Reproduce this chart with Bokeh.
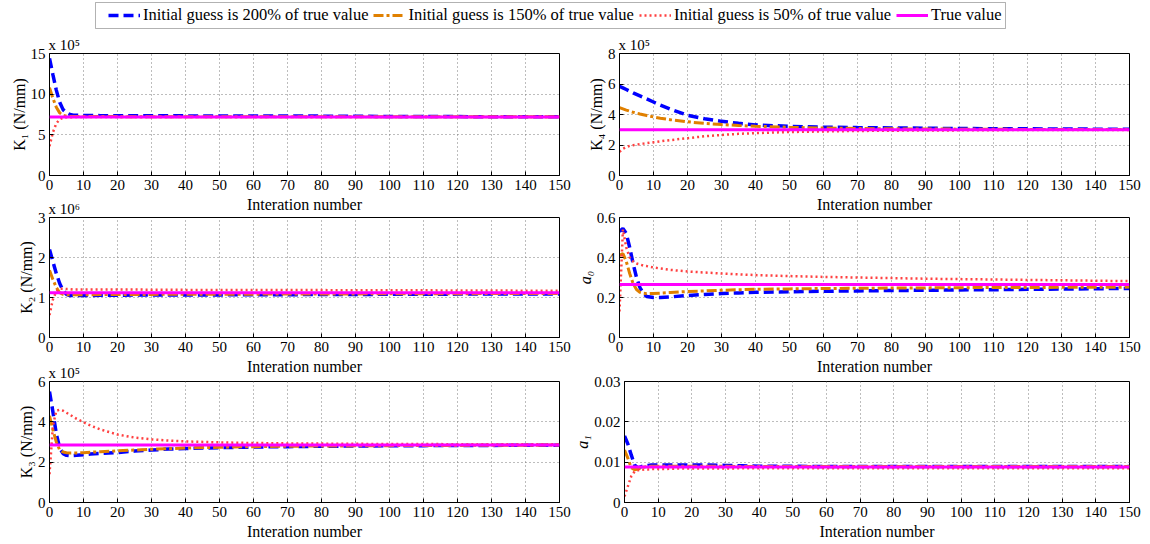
from bokeh.plotting import figure
from bokeh.layouts import column, row
from bokeh.models import (Range1d, FixedTicker, Legend, LegendItem, Title,
                          BoxAnnotation, Span, NumeralTickFormatter)
from bokeh.embed import file_html
from bokeh.resources import INLINE

# ---------------- data ----------------
ITER = [0, 1, 2, 3, 4, 5, 6, 7, 8, 10, 12, 15, 20, 25, 30, 35, 40, 50, 60, 70,
        80, 90, 100, 110, 120, 130, 140, 150]
X_TICKS = [0, 10, 20, 30, 40, 50, 60, 70, 80, 90, 100, 110, 120, 130, 140, 150]

SERIES_NAMES = ["Initial guess is 200% of true value",
                "Initial guess is 150% of true value",
                "Initial guess is 50% of true value",
                "True value"]

# K1 (x 10^5 N/mm)
K1_200 = [14.4, 12.4, 10.5, 9.0, 8.1, 7.7, 7.5, 7.42, 7.4, 7.38, 7.37, 7.36, 7.35, 7.35,
          7.34, 7.34, 7.33, 7.33, 7.32, 7.31, 7.30, 7.28, 7.26, 7.25, 7.24, 7.23, 7.22, 7.22]
K1_150 = [10.8, 9.5, 8.4, 7.7, 7.4, 7.3, 7.27, 7.26, 7.25, 7.25, 7.24, 7.24, 7.24, 7.23,
          7.23, 7.23, 7.23, 7.22, 7.22, 7.22, 7.22, 7.21, 7.21, 7.21, 7.21, 7.21, 7.21, 7.21]
K1_50 = [3.6, 5.3, 6.4, 6.9, 7.1, 7.15, 7.17, 7.18, 7.19, 7.19, 7.2, 7.2, 7.2, 7.2,
         7.2, 7.2, 7.2, 7.2, 7.2, 7.2, 7.2, 7.2, 7.2, 7.2, 7.2, 7.2, 7.2, 7.2]
K1_TRUE = 7.2
K1_YTICKS = [0, 5, 10, 15]

# K2 (x 10^6 N/mm)
K2_200 = [2.2, 1.9, 1.6, 1.35, 1.17, 1.08, 1.05, 1.05, 1.05, 1.05, 1.05, 1.055, 1.055, 1.06,
          1.06, 1.06, 1.065, 1.065, 1.07, 1.07, 1.075, 1.075, 1.08, 1.08, 1.085, 1.085, 1.09, 1.09]
K2_150 = [1.68, 1.45, 1.25, 1.12, 1.08, 1.07, 1.07, 1.07, 1.07, 1.07, 1.07, 1.072, 1.074, 1.076,
          1.078, 1.08, 1.08, 1.082, 1.084, 1.086, 1.088, 1.09, 1.092, 1.094, 1.096, 1.098, 1.1, 1.1]
K2_50 = [0.56, 0.95, 1.15, 1.22, 1.22, 1.21, 1.21, 1.2, 1.2, 1.2, 1.2, 1.2, 1.2, 1.2,
         1.195, 1.195, 1.19, 1.19, 1.19, 1.185, 1.185, 1.18, 1.18, 1.18, 1.175, 1.175, 1.17, 1.17]
K2_TRUE = 1.12
K2_YTICKS = [0, 1, 2, 3]

# K3 (x 10^5 N/mm)
K3_200 = [5.5, 4.5, 3.4, 2.7, 2.42, 2.34, 2.32, 2.33, 2.34, 2.37, 2.4, 2.43, 2.48, 2.55,
          2.6, 2.65, 2.68, 2.72, 2.75, 2.77, 2.79, 2.8, 2.81, 2.82, 2.83, 2.83, 2.84, 2.84]
K3_150 = [4.3, 3.6, 3.0, 2.6, 2.5, 2.47, 2.46, 2.46, 2.46, 2.47, 2.49, 2.52, 2.56, 2.6,
          2.64, 2.67, 2.7, 2.74, 2.77, 2.79, 2.8, 2.81, 2.82, 2.83, 2.83, 2.84, 2.84, 2.85]
K3_50 = [1.4, 3.8, 4.55, 4.6, 4.55, 4.45, 4.35, 4.25, 4.15, 3.98, 3.82, 3.62, 3.37, 3.22,
         3.13, 3.07, 3.03, 2.98, 2.95, 2.93, 2.92, 2.91, 2.9, 2.9, 2.89, 2.89, 2.89, 2.89]
K3_TRUE = 2.85
K3_YTICKS = [0, 2, 4, 6]

# K4 (x 10^5 N/mm)
K4_200 = [5.85, 5.75, 5.64, 5.53, 5.42, 5.32, 5.22, 5.12, 5.02, 4.82, 4.62, 4.35, 3.95, 3.72,
          3.55, 3.42, 3.32, 3.22, 3.17, 3.14, 3.12, 3.1, 3.08, 3.07, 3.06, 3.05, 3.04, 3.03]
K4_150 = [4.45, 4.37, 4.29, 4.22, 4.15, 4.09, 4.03, 3.98, 3.93, 3.84, 3.76, 3.66, 3.52, 3.42,
          3.34, 3.28, 3.23, 3.16, 3.11, 3.08, 3.06, 3.05, 3.04, 3.03, 3.02, 3.02, 3.01, 3.01]
K4_50 = [1.55, 1.75, 1.87, 1.94, 1.99, 2.03, 2.06, 2.09, 2.12, 2.18, 2.24, 2.32, 2.45, 2.57,
         2.66, 2.73, 2.78, 2.85, 2.89, 2.92, 2.94, 2.95, 2.96, 2.97, 2.98, 2.98, 2.99, 2.99]
K4_TRUE = 3.0
K4_YTICKS = [0, 2, 4, 6, 8]

# a0
A0_200 = [0.53, 0.545, 0.52, 0.45, 0.37, 0.3, 0.25, 0.22, 0.205, 0.2, 0.2, 0.203, 0.21, 0.215,
          0.22, 0.223, 0.226, 0.229, 0.231, 0.233, 0.235, 0.236, 0.238, 0.239, 0.241, 0.242, 0.244, 0.245]
A0_150 = [0.41, 0.42, 0.38, 0.32, 0.27, 0.24, 0.226, 0.221, 0.219, 0.22, 0.222, 0.225, 0.23, 0.233,
          0.236, 0.239, 0.241, 0.243, 0.245, 0.246, 0.247, 0.248, 0.249, 0.25, 0.25, 0.251, 0.251, 0.252]
A0_50 = [0.13, 0.54, 0.45, 0.4, 0.38, 0.37, 0.365, 0.36, 0.357, 0.35, 0.345, 0.338, 0.33, 0.325,
         0.32, 0.316, 0.312, 0.307, 0.303, 0.3, 0.297, 0.294, 0.292, 0.29, 0.288, 0.286, 0.284, 0.282]
A0_TRUE = 0.265
A0_YTICKS = [0, 0.2, 0.4, 0.6]

# a1
A1_200 = [0.0165, 0.0145, 0.0118, 0.0093, 0.0086, 0.0089, 0.0091, 0.0092, 0.0093, 0.0093, 0.0093,
          0.0093, 0.0093, 0.0093, 0.0092, 0.0091, 0.009, 0.009, 0.0089, 0.0089, 0.0089, 0.0089,
          0.0089, 0.0089, 0.0089, 0.0089, 0.0089, 0.0089]
A1_150 = [0.013, 0.011, 0.0086, 0.0081, 0.0083, 0.0086, 0.0088, 0.0089, 0.009, 0.009, 0.009,
          0.009, 0.009, 0.009, 0.009, 0.0089, 0.0089, 0.0089, 0.0089, 0.0089, 0.0089, 0.0089,
          0.0089, 0.0089, 0.0089, 0.0089, 0.0089, 0.0089]
A1_50 = [0.0015, 0.004, 0.0065, 0.0077, 0.008, 0.0081, 0.0082, 0.0082, 0.0083, 0.0083, 0.0083,
         0.0084, 0.0084, 0.0084, 0.0084, 0.0085, 0.0085, 0.0085, 0.0085, 0.0085, 0.0085, 0.0085,
         0.0085, 0.0085, 0.0085, 0.0085, 0.0085, 0.0085]
A1_TRUE = 0.0088
A1_YTICKS = [0, 0.01, 0.02, 0.03]

# ---------------- styles ----------------
FONT = "Liberation Serif"
STYLES = [
    dict(color="#0000FF", line_width=3.5, line_dash="10 5"),
    dict(color="#E08000", line_width=3, line_dash="10 3 3 3"),
    dict(color="#FF4040", line_width=2.5, line_dash="2 3"),
    dict(color="#FF00FF", line_width=3, line_dash="solid"),
]


def panel(series, true_val, y_ticks, fmt, ylabel, ystyle, scale, width, height,
          left, right, top, bottom):
    p = figure(width=width, height=height, x_range=Range1d(0, 150),
               y_range=Range1d(y_ticks[0], y_ticks[-1]), output_backend="svg",
               toolbar_location=None, title=None,
               min_border_left=left, min_border_right=right,
               min_border_top=top, min_border_bottom=bottom)
    p.border_fill_alpha = 0
    p.outline_line_color = "black"
    p.outline_line_width = 1
    p.outline_line_alpha = 1
    p.xaxis.ticker = FixedTicker(ticks=X_TICKS)
    p.yaxis.ticker = FixedTicker(ticks=y_ticks)
    p.xgrid.ticker = FixedTicker(ticks=X_TICKS)
    p.ygrid.ticker = FixedTicker(ticks=y_ticks)
    p.yaxis.formatter = NumeralTickFormatter(format=fmt)
    for ax in (p.xaxis[0], p.yaxis[0]):
        ax.major_tick_in = 4
        ax.major_tick_out = 0
        ax.minor_tick_in = 0
        ax.minor_tick_out = 0
        ax.axis_line_color = "black"
        ax.major_tick_line_color = "black"
        ax.major_label_text_font = FONT
        ax.major_label_text_font_size = "15px"
        ax.major_label_text_color = "black"
        ax.major_label_standoff = 4
        ax.axis_label_text_font = FONT
        ax.axis_label_text_color = "black"
    p.xaxis.axis_label = "Interation number"
    p.xaxis.axis_label_text_font_size = "16px"
    p.xaxis.axis_label_text_font_style = "normal"
    p.xaxis.axis_label_standoff = 3
    p.yaxis.axis_label = ylabel
    p.yaxis.axis_label_text_font_size = "16px"
    p.yaxis.axis_label_text_font_style = ystyle
    p.yaxis.axis_label_standoff = 0
    for g in (p.xgrid[0], p.ygrid[0]):
        g.grid_line_color = "#7a7a7a"
        g.grid_line_dash = "1 3"
        g.grid_line_width = 1
    for ys, st in zip(series, STYLES[:3]):
        p.line(ITER, ys, **st)
    p.add_layout(Span(location=true_val, dimension="width", line_color=STYLES[3]["color"],
                      line_width=STYLES[3]["line_width"]))
    if scale:
        p.add_layout(Title(text=scale, align="left", text_font=FONT, text_font_size="15px",
                           text_font_style="normal", text_color="black", standoff=1,
                           offset=-1), "above")
    return p


# left column frame x 49..559 ; right column frame x 619..1129
L = dict(width=571, left=49, right=12)
R = dict(width=579, left=48, right=21)
R1 = dict(height=187, top=23, bottom=42)   # frame 122 : y 53..175
R2 = dict(height=182, top=20, bottom=42)   # frame 120 : y 217..337 (overlaps row 1 by 20)
R3 = dict(height=185, top=22, bottom=42)   # frame 121 : y 381..502 (overlaps row 2 by 20)

p1 = panel([K1_200, K1_150, K1_50], K1_TRUE, K1_YTICKS, "0", "K\u2081 (N/mm)", "normal",
           "x 10\u2075", **L, **R1)
p2 = panel([K2_200, K2_150, K2_50], K2_TRUE, K2_YTICKS, "0", "K\u2082 (N/mm)", "normal",
           "x 10\u2076", **L, **R2)
p3 = panel([K3_200, K3_150, K3_50], K3_TRUE, K3_YTICKS, "0", "K\u2083 (N/mm)", "normal",
           "x 10\u2075", **L, **R3)
p4 = panel([K4_200, K4_150, K4_50], K4_TRUE, K4_YTICKS, "0", "K\u2084 (N/mm)", "normal",
           "x 10\u2075", **R, **R1)
p5 = panel([A0_200, A0_150, A0_50], A0_TRUE, A0_YTICKS, "0.[0]", "a\u2080", "italic",
           None, **R, **R2)
p6 = panel([A1_200, A1_150, A1_50], A1_TRUE, A1_YTICKS, "0.[00]", "a\u2081", "italic",
           None, **R, **R3)

# ---------------- legend strip ----------------
lg = figure(width=1150, height=30, x_range=Range1d(0, 1), y_range=Range1d(0, 1),
            x_axis_type=None, y_axis_type=None, output_backend="svg",
            toolbar_location=None, title=None, min_border=0)
lg.outline_line_color = None
items = []
for name, st in zip(SERIES_NAMES, STYLES):
    r = lg.line(x=[float("nan")], y=[float("nan")], **st)
    items.append(LegendItem(label=name, renderers=[r]))
legend = Legend(items=items, orientation="horizontal", location=(108, 5),
                glyph_width=32, glyph_height=20, label_height=20, label_standoff=3,
                spacing=5, padding=0, margin=0, border_line_color=None,
                background_fill_alpha=0, label_text_font=FONT,
                label_text_font_size="16.5px", label_text_color="black")
lg.add_layout(legend)
lg.add_layout(BoxAnnotation(left=95, right=1005, bottom=2, top=28,
                            left_units="screen", right_units="screen",
                            top_units="screen", bottom_units="screen",
                            fill_alpha=0, line_color="black", line_width=1))

root = column(lg,
              row(p1, p4),
              row(p2, p5, margin=(-20, 0, 0, 0)),
              row(p3, p6, margin=(-20, 0, 0, 0)))
open("out.html", "w").write(file_html(root, INLINE))
